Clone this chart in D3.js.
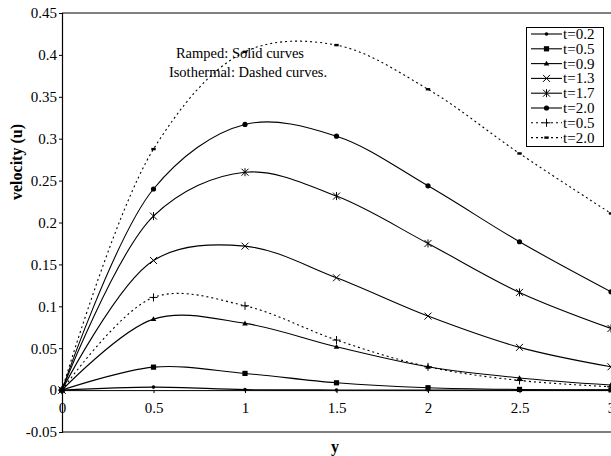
<!DOCTYPE html>
<html>
<head>
<meta charset="utf-8">
<script src="https://cdn.jsdelivr.net/npm/d3@7"></script>
<style>
  html, body { margin: 0; padding: 0; background: #fff; }
  svg { display: block; font-family: "Liberation Serif", "Times New Roman", serif; }
</style>
</head>
<body>
<svg id="chart" width="611" height="456"></svg>
<script>
// Sample positions along y
const yPos = [0, 0.5, 1, 1.5, 2, 2.5, 3];

// Velocity profiles, ramped wall temperature (solid)
const ramp02 = [0, 0.0036, 0.0006, 0.0002, 0.0001, 0, 0];
const ramp05 = [0, 0.0274, 0.0199, 0.0087, 0.0028, 0.0008, 0.0003];
const ramp09 = [0, 0.0847, 0.0796, 0.0517, 0.0278, 0.0145, 0.0060];
const ramp13 = [0, 0.1547, 0.1718, 0.1340, 0.0883, 0.0510, 0.0278];
const ramp17 = [0, 0.2076, 0.2600, 0.2315, 0.1750, 0.1166, 0.0736];
const ramp20 = [0, 0.2400, 0.3170, 0.3030, 0.2438, 0.1770, 0.1173];

// Velocity profiles, isothermal wall (dashed)
const iso05 = [0, 0.1106, 0.1006, 0.0597, 0.0278, 0.0115, 0.0040];
const iso20 = [0, 0.2876, 0.4037, 0.4117, 0.3590, 0.2824, 0.2108];

const legendLabels = ["t=0.2", "t=0.5", "t=0.9", "t=1.3", "t=1.7", "t=2.0", "t=0.5", "t=2.0"];
const yTicks = [-0.05, 0, 0.05, 0.1, 0.15, 0.2, 0.25, 0.3, 0.35, 0.4, 0.45];
const xTicks = [0, 0.5, 1, 1.5, 2, 2.5, 3];

const series = [
  { label: legendLabels[0], values: ramp02, dashed: false, marker: "dot" },
  { label: legendLabels[1], values: ramp05, dashed: false, marker: "square" },
  { label: legendLabels[2], values: ramp09, dashed: false, marker: "triangle" },
  { label: legendLabels[3], values: ramp13, dashed: false, marker: "cross" },
  { label: legendLabels[4], values: ramp17, dashed: false, marker: "asterisk" },
  { label: legendLabels[5], values: ramp20, dashed: false, marker: "circle" },
  { label: legendLabels[6], values: iso05, dashed: true, marker: "plus" },
  { label: legendLabels[7], values: iso20, dashed: true, marker: "bar" }
];

const svg = d3.select("#chart");
const plotLeft = 62, plotRight = 611, plotTop = 13, plotBottom = 432;

const x = d3.scaleLinear().domain([0, 3]).range([plotLeft, plotRight]);
const y = d3.scaleLinear().domain([-0.05, 0.45]).range([plotBottom, plotTop]);

// Frame: gray top edge, black bottom edge
svg.append("line").attr("x1", plotLeft).attr("x2", plotRight).attr("y1", plotTop).attr("y2", plotTop)
  .attr("stroke", "#808080").attr("stroke-width", 2);
svg.append("line").attr("x1", plotLeft).attr("x2", plotRight).attr("y1", plotBottom).attr("y2", plotBottom)
  .attr("stroke", "#000").attr("stroke-width", 1.2);

// Y axis
const yAxis = svg.append("g").attr("transform", `translate(${plotLeft},0)`)
  .call(d3.axisLeft(y).tickValues(yTicks).tickSize(3).tickPadding(2)
    .tickFormat(d => String(+d.toFixed(2))));
yAxis.select(".domain").attr("stroke-width", 1.2);
yAxis.selectAll("text").attr("font-size", 15).attr("font-family", "Liberation Serif").attr("fill", "#000");

// X axis along velocity zero
const xAxis = svg.append("g").attr("transform", `translate(0,${y(0)})`)
  .call(d3.axisBottom(x).tickValues(xTicks).tickSize(3).tickPadding(9)
    .tickFormat(d => String(d)));
xAxis.select(".domain").attr("stroke-width", 1);
xAxis.selectAll("text").attr("font-size", 15).attr("font-family", "Liberation Serif").attr("fill", "#000");

// Axis titles
svg.append("text").attr("transform", `translate(22,162) rotate(-90)`)
  .attr("text-anchor", "middle").attr("font-size", 16).attr("font-weight", "bold")
  .text("velocity (u)");
svg.append("text").attr("x", 335).attr("y", 452)
  .attr("text-anchor", "middle").attr("font-size", 16).attr("font-weight", "bold")
  .text("y");

// Curves
const line = d3.line()
  .x((d, i) => x(yPos[i]))
  .y(d => y(d))
  .curve(d3.curveCatmullRom.alpha(0.5));

const plot = svg.append("g");
series.forEach(s => {
  plot.append("path")
    .attr("d", line(s.values))
    .attr("fill", "none")
    .attr("stroke", "#000")
    .attr("stroke-width", 1.1)
    .attr("stroke-dasharray", s.dashed ? "2,3" : null);
});

// Marker drawing
function drawMarker(g, type, cx, cy) {
  switch (type) {
    case "dot":
      g.append("circle").attr("cx", cx).attr("cy", cy).attr("r", 1.8).attr("fill", "#000");
      break;
    case "circle":
      g.append("circle").attr("cx", cx).attr("cy", cy).attr("r", 2.6).attr("fill", "#000");
      break;
    case "square":
      g.append("rect").attr("x", cx - 2.6).attr("y", cy - 2.6).attr("width", 5.2).attr("height", 5.2).attr("fill", "#000");
      break;
    case "triangle":
      g.append("path").attr("d", `M${cx},${cy - 2.8}L${cx + 2.8},${cy + 2}L${cx - 2.8},${cy + 2}Z`).attr("fill", "#000");
      break;
    case "cross":
      g.append("path").attr("d", `M${cx - 3.5},${cy - 3.5}L${cx + 3.5},${cy + 3.5}M${cx - 3.5},${cy + 3.5}L${cx + 3.5},${cy - 3.5}`)
        .attr("stroke", "#000").attr("stroke-width", 1);
      break;
    case "asterisk":
      g.append("path").attr("d", `M${cx - 3.5},${cy - 3.5}L${cx + 3.5},${cy + 3.5}M${cx - 3.5},${cy + 3.5}L${cx + 3.5},${cy - 3.5}M${cx},${cy - 4}L${cx},${cy + 4}`)
        .attr("stroke", "#000").attr("stroke-width", 1);
      break;
    case "plus":
      g.append("path").attr("d", `M${cx - 4},${cy}L${cx + 4},${cy}M${cx},${cy - 4}L${cx},${cy + 4}`)
        .attr("stroke", "#000").attr("stroke-width", 1);
      break;
    case "bar":
      g.append("rect").attr("x", cx - 2.2).attr("y", cy - 1.2).attr("width", 4.4).attr("height", 2.4).attr("fill", "#000");
      break;
  }
}

series.forEach(s => {
  const g = plot.append("g");
  s.values.forEach((v, i) => drawMarker(g, s.marker, x(yPos[i]), y(v)));
});

// Annotation
svg.append("text").attr("x", 240).attr("y", 58).attr("text-anchor", "middle")
  .attr("font-size", 14.5).text("Ramped: Solid curves");
svg.append("text").attr("x", 248).attr("y", 77).attr("text-anchor", "middle")
  .attr("font-size", 14.5).text("Isothermal: Dashed curves.");

// Legend
const lg = svg.append("g");
lg.append("rect").attr("x", 526.5).attr("y", 27.5).attr("width", 77).attr("height", 119)
  .attr("fill", "#fff").attr("stroke", "#000").attr("stroke-width", 1);
series.forEach((s, i) => {
  const ly = 34 + i * 14.8;
  lg.append("line").attr("x1", 531).attr("x2", 562).attr("y1", ly).attr("y2", ly)
    .attr("stroke", "#000").attr("stroke-width", 1.1)
    .attr("stroke-dasharray", s.dashed ? "2,3" : null);
  drawMarker(lg, s.marker, 546.5, ly);
  lg.append("text").attr("x", 563).attr("y", ly + 5).attr("font-size", 15).text(s.label);
});
</script>
</body>
</html>
